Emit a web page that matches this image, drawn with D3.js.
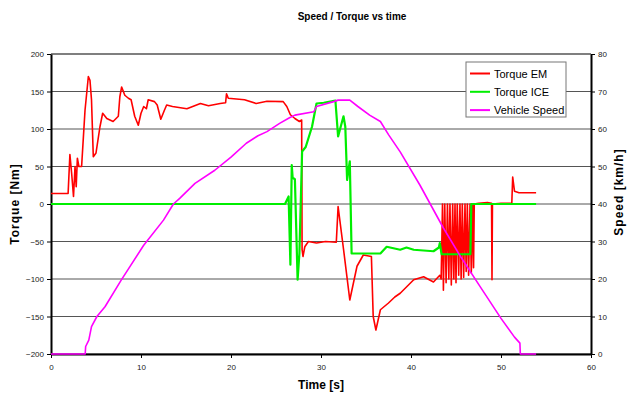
<!DOCTYPE html>
<html><head><meta charset="utf-8">
<script src="https://cdn.jsdelivr.net/npm/d3@7"></script>
<style>body{margin:0;background:#fff}svg{display:block;font-family:Arial,"Liberation Sans",sans-serif}</style>
</head><body>
<svg id="c" width="637" height="396"></svg>
<script>
const chartTitle = "Speed / Torque vs time";
const xTicks = [0,10,20,30,40,50,60];
const torqueTicks = [-200,-150,-100,-50,0,50,100,150,200];
const speedTicks = [0,10,20,30,40,50,60,70,80];
const seriesNames = ["Torque EM","Torque ICE","Vehicle Speed"];
const seriesColors = ["#ff0000","#00ee00","#ff00ff"];

// [time s, torque Nm]
const torqueEM = [[0,14],[1.9,14],[2.1,66],[2.3,40],[2.5,10],[2.67,50],[2.8,23],[2.93,61],[3.1,50],[3.4,50],[3.78,125],[4.15,170],[4.33,165],[4.5,139],[4.7,63],[5.0,68],[5.44,103],[5.74,121],[6.2,114],[6.9,110],[7.48,117],[7.65,143],[7.85,156],[8.2,145],[8.6,141],[8.9,139],[9.3,117],[9.7,105],[10.0,121],[10.3,130],[10.6,127],[10.8,139],[11.5,136.5],[11.8,132],[12.2,113],[12.6,125],[12.85,132],[13.5,130],[15.1,127],[16.6,134],[17.5,131],[18.8,134],[19.4,135],[19.5,147],[19.7,141],[21.5,139],[22.8,134],[24.0,137],[25.8,136.5],[26.2,130],[26.6,119],[27.1,114],[27.6,110],[27.85,112],[27.9,-61],[28.0,-70],[28.2,-57],[28.6,-50],[29.5,-52],[30.5,-50],[31.7,-51],[31.9,-3.5],[32.5,-60],[33.2,-128],[34.0,-83],[34.7,-68],[35.6,-70],[35.8,-150],[36.1,-168],[36.6,-141],[37.5,-132],[38.2,-124],[38.8,-119],[40.3,-101],[41.4,-97],[42.5,-104],[43.2,-95],[43.35,-100],[43.5,0],[43.6,-115],[43.75,0],[43.9,-105],[44.05,0],[44.2,-100],[44.33,0],[44.48,-108],[44.63,0],[44.76,-100],[44.89,0],[45.0,-105],[45.14,0],[45.3,-95],[45.44,0],[45.57,-100],[45.7,0],[45.85,-98],[46.0,0],[46.13,-90],[46.26,0],[46.4,-95],[46.56,0],[46.7,-92],[46.86,0],[46.95,-85],[47.03,0],[47.5,1],[48.5,2],[48.95,1],[49.0,-101],[49.05,0],[50,1],[51.2,1],[51.3,36],[51.5,17],[52,15],[53,15],[53.9,15]];

const torqueICE = [[0,0],[26.0,0],[26.4,10],[26.6,-81],[26.75,52],[26.85,35],[27.1,33],[27.4,-101],[27.6,-66],[27.9,70],[28.3,76],[29.0,103],[29.5,134],[30.3,135],[31.6,138],[31.9,90],[32.5,117],[32.7,103],[32.9,32],[33.2,57],[33.4,-66],[35.0,-66],[36.6,-66],[37.3,-57],[38.8,-61],[39.5,-58],[40.3,-61],[42.5,-63],[43.1,-58],[43.2,-52],[43.4,-67],[46.6,-67],[46.7,0],[53.9,0]];

// [time s, speed km/h]
const vehicleSpeed = [[0,0],[3.8,0],[3.85,2],[4.2,3.7],[4.5,7.3],[5.1,10],[6.0,12.6],[7.8,19.7],[10.3,29],[12.5,35.7],[13.6,40],[14.3,41.5],[16.0,45.5],[18.2,49],[20.0,52.5],[21.7,56.2],[23.0,58.2],[24.0,59.3],[25.4,61.5],[26.5,63],[27.1,63.7],[29.2,64.6],[29.5,66],[31.4,67.3],[31.9,67.7],[33.2,67.7],[34.1,66],[35.4,63.7],[36.6,62],[37.5,58.5],[38.8,53.9],[41.0,45],[43.6,33.6],[45.5,26],[47.7,17.9],[50.0,9.5],[51.5,4.5],[52.1,2.9],[52.15,0],[53.9,0]];

const svg = d3.select("#c");
const L=51, R=591, T=54, B=354;
const x = d3.scaleLinear().domain([0,60]).range([L,R]);
const yT = d3.scaleLinear().domain([-200,200]).range([B,T]);
const yS = d3.scaleLinear().domain([0,80]).range([B,T]);

// gridlines
svg.append("g").selectAll("line").data(torqueTicks).join("line")
  .attr("x1",L).attr("x2",R).attr("y1",d=>yT(d)).attr("y2",d=>yT(d))
  .attr("stroke",d=>d===200?"#000":"#555").attr("stroke-width",d=>d===200?1.2:1);

function styleAxis(g){
  g.select(".domain").attr("stroke","#000").attr("stroke-width",2);
  g.selectAll(".tick line").attr("stroke","#000");
  g.selectAll(".tick text").attr("fill","#222").style("font-size","8px").style("font-family","Arial, 'Liberation Sans', sans-serif");
}
svg.append("g").attr("transform",`translate(${L},0)`)
  .call(d3.axisLeft(yT).tickValues(torqueTicks).tickSize(4).tickSizeOuter(0).tickPadding(3)).call(styleAxis);
svg.append("g").attr("transform",`translate(${R},0)`)
  .call(d3.axisRight(yS).tickValues(speedTicks).tickSize(4).tickSizeOuter(0).tickPadding(3)).call(styleAxis);
svg.append("g").attr("transform",`translate(0,${B})`)
  .call(d3.axisBottom(x).tickValues(xTicks).tickSize(4).tickSizeOuter(0).tickPadding(6)).call(styleAxis);

const lineT = d3.line().x(d=>x(d[0])).y(d=>yT(d[1]));
const lineS = d3.line().x(d=>x(d[0])).y(d=>yS(d[1]));
svg.append("path").datum(torqueEM).attr("d",lineT).attr("fill","none").attr("stroke",seriesColors[0]).attr("stroke-width",1.6).attr("stroke-linejoin","round");
svg.append("path").datum(torqueICE).attr("d",lineT).attr("fill","none").attr("stroke",seriesColors[1]).attr("stroke-width",2.2).attr("stroke-linejoin","round");
svg.append("path").datum(vehicleSpeed).attr("d",lineS).attr("fill","none").attr("stroke",seriesColors[2]).attr("stroke-width",1.6).attr("stroke-linejoin","round");

// titles
svg.append("text").attr("x",352).attr("y",20).attr("text-anchor","middle")
  .style("font-weight","bold").style("font-size","10px").text(chartTitle);
svg.append("text").attr("x",321).attr("y",389).attr("text-anchor","middle")
  .style("font-weight","bold").style("font-size","12px").text("Time [s]");
svg.append("text").attr("transform","translate(19,204) rotate(-90)").attr("text-anchor","middle")
  .style("font-weight","bold").style("font-size","12px").style("letter-spacing","1px").text("Torque [Nm]");
svg.append("text").attr("transform","translate(623,192) rotate(-90)").attr("text-anchor","middle")
  .style("font-weight","bold").style("font-size","12px").style("letter-spacing","1px").text("Speed [km/h]");

// legend
const lg = svg.append("g").attr("transform","translate(466,62)");
lg.append("rect").attr("width",100).attr("height",55).attr("fill","#fff").attr("stroke","#777").attr("stroke-width",1);
seriesNames.forEach((n,i)=>{
  const yy = 11.5 + i*18.3;
  lg.append("line").attr("x1",4).attr("x2",24).attr("y1",yy).attr("y2",yy).attr("stroke",seriesColors[i]).attr("stroke-width",2);
  lg.append("text").attr("x",28).attr("y",yy+4).style("font-size","11px").text(n);
});
</script>
</body></html>
